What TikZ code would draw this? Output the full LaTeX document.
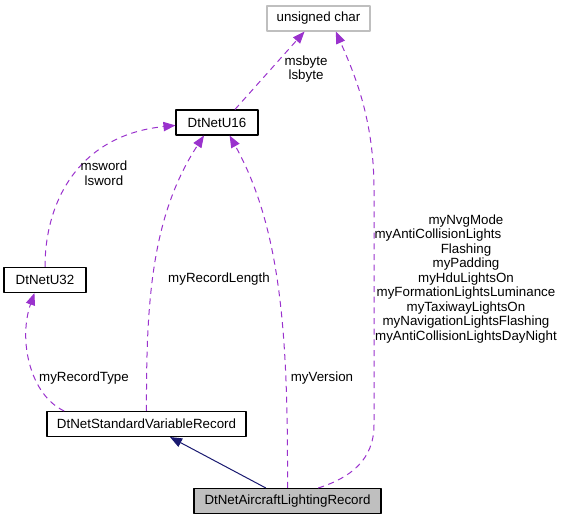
\documentclass[tikz,border=0pt]{standalone}
\usepackage{fontspec}
\setmainfont{Liberation Sans}
\usetikzlibrary{arrows.meta}
\definecolor{depcol}{HTML}{9A32CD}
\definecolor{inhcol}{HTML}{191970}
\definecolor{boxgray}{HTML}{BFBFBF}
\begin{document}
\begin{tikzpicture}[x=0.75pt,y=-0.75pt,>={Triangle[length=9pt,width=7pt]}, font=\fontsize{10}{10.9}\selectfont, line join=round,
		cls/.style={draw=black,line width=0.8pt,minimum height=18.75pt,inner sep=0pt},
		dep/.style={->,draw=depcol,dash pattern=on 4.5pt off 3.5pt,line width=0.75pt},
		inh/.style={->,draw=inhcol,line width=0.75pt},
		lbl/.style={align=center,inner sep=0pt}]
		\useasboundingbox (0,0) rectangle (561,520);
		% Lớp
		\node[cls,draw=boxgray,minimum width=77.25pt] (uc) at (318.5,18.5) {unsigned char};
		\node[cls,minimum width=61.5pt] (u16) at (217,122.5) {DtNetU16};
		\node[cls,minimum width=61.5pt] (u32) at (45,280) {DtNetU32};
		\node[cls,minimum width=149.25pt] (svr) at (146.5,424) {DtNetStandardVariableRecord};
		\node[cls,fill=boxgray,minimum width=140.25pt] (alr) at (287.5,501) {DtNetAircraftLightingRecord};
		% Quan hệ
		\draw[dep] (u16.36)--(uc.223);
		\draw[dep] (u32.north) .. controls (45,200) and (80,135) .. (u16.184);
		\draw[dep] (svr.north) .. controls (146,300) and (152,215) .. (u16.225);
		\draw[dep] (alr.north) .. controls (288,340) and (282,230) .. (u16.314);
		\draw[dep] (svr.171) .. controls (30,395) and (18,340) .. (u32.231);
		\draw[dep] (alr.23) .. controls (350,478) and (374,460) .. (374,425)--(374,190) .. controls (374,120) and (355,75) .. (uc.323);
		\draw[inh] (alr.149)--(svr.331);
		% Nhãn
		\node[lbl] (lbyte) at (306,69) {msbyte\\lsbyte};
		\node[lbl] (lword) at (104,173) {msword\\lsword};
		\node[lbl] (llen) at (219,279) {myRecordLength};
		\node[lbl] (lver) at (322,378) {myVersion};
		\node[lbl] (ltype) at (84,378) {myRecordType};
		\node[lbl] (llight) at (466,278.7) {myNvgMode\\myAntiCollisionLights\rule{42pt}{0pt}\\Flashing\\myPadding\\myHduLightsOn\\myFormationLightsLuminance\\myTaxiwayLightsOn\\myNavigationLightsFlashing\\myAntiCollisionLightsDayNight};
\end{tikzpicture}
\end{document}
